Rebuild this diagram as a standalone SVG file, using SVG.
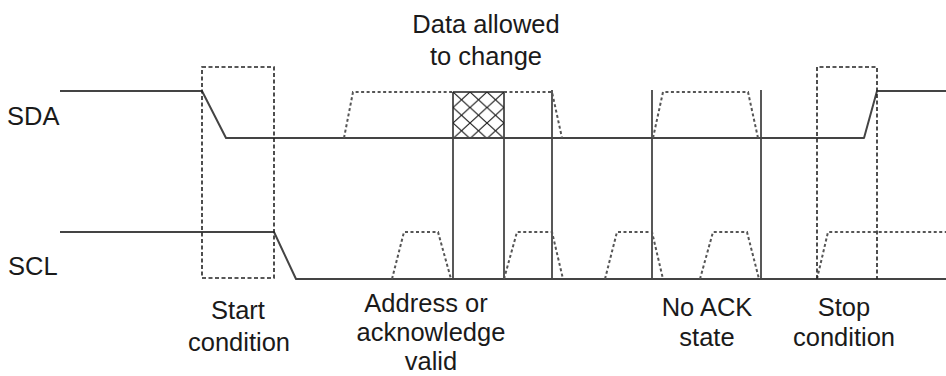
<svg xmlns="http://www.w3.org/2000/svg" width="946" height="376" viewBox="0 0 946 376">
  <defs>
    <pattern id="hatch" patternUnits="userSpaceOnUse" x="453" y="92" width="17" height="15.5">
      <path d="M0,0 L17,15.5 M17,0 L0,15.5" stroke="#222" stroke-width="1.2" fill="none"/>
    </pattern>
  </defs>
  <style>
    .sig { fill: none; stroke: #444; stroke-width: 2; stroke-linejoin: round; }
    .opt { fill: none; stroke: #555; stroke-width: 2; stroke-dasharray: 3 2.5; }
    .box { fill: none; stroke: #222; stroke-width: 1.6; stroke-dasharray: 4 2.5; }
    .vl { stroke: #222; stroke-width: 1.5; }
    .lbl { font-family: "Liberation Sans", Arial, sans-serif; font-size: 25.5px; fill: #1a1a1a; }
  </style>
  <rect width="946" height="376" fill="#fff"/>

  <g id="labels">
    <text class="lbl" x="7" y="125">SDA</text>
    <text class="lbl" x="8" y="275">SCL</text>
    <text class="lbl" x="486" y="33" text-anchor="middle">Data allowed</text>
    <text class="lbl" x="486" y="65" text-anchor="middle">to change</text>
    <text class="lbl" x="238" y="319" text-anchor="middle">Start</text>
    <text class="lbl" x="239" y="351" text-anchor="middle">condition</text>
    <text class="lbl" x="426" y="312" text-anchor="middle">Address or</text>
    <text class="lbl" x="431" y="341" text-anchor="middle">acknowledge</text>
    <text class="lbl" x="431" y="370" text-anchor="middle">valid</text>
    <text class="lbl" x="707" y="316" text-anchor="middle">No ACK</text>
    <text class="lbl" x="707" y="346" text-anchor="middle">state</text>
    <text class="lbl" x="844" y="316" text-anchor="middle">Stop</text>
    <text class="lbl" x="844" y="346" text-anchor="middle">condition</text>
  </g>

  <g id="hatched-region">
    <rect x="453" y="92" width="51" height="46" fill="url(#hatch)"/>
  </g>

  <g id="verticals">
    <path class="vl" d="M453,92 V279 M504,92 V279 M552,90 V279 M652,90 V279 M761,90 V279 M453,92 H504"/>
  </g>

  <g id="sda">
    <path class="sig" d="M60,91 H202 L226,138 H864 L877,91 H946"/>
    <path class="opt" d="M344,138 L353,92 H453 M504,92 H552 L562,138"/>
    <path class="opt" d="M653,138 L663,92 H748 L758,138"/>
  </g>

  <g id="scl">
    <path class="sig" d="M60,232 H274 L296,279 H946"/>
    <path class="opt" d="M392,279 L404,232 H438 L451,279"/>
    <path class="opt" d="M504,279 L517,232 H552 L563,279"/>
    <path class="opt" d="M605,279 L617,232 H652 L663,279"/>
    <path class="opt" d="M700,279 L713,232 H747 L759,279"/>
    <path class="opt" d="M817,279 L828,232 H946"/>
  </g>

  <g id="start-condition">
    <rect class="box" x="202" y="67" width="72" height="211"/>
  </g>
  <g id="stop-condition">
    <path class="box" d="M817,279 V67 H877 V279"/>
  </g>
</svg>
